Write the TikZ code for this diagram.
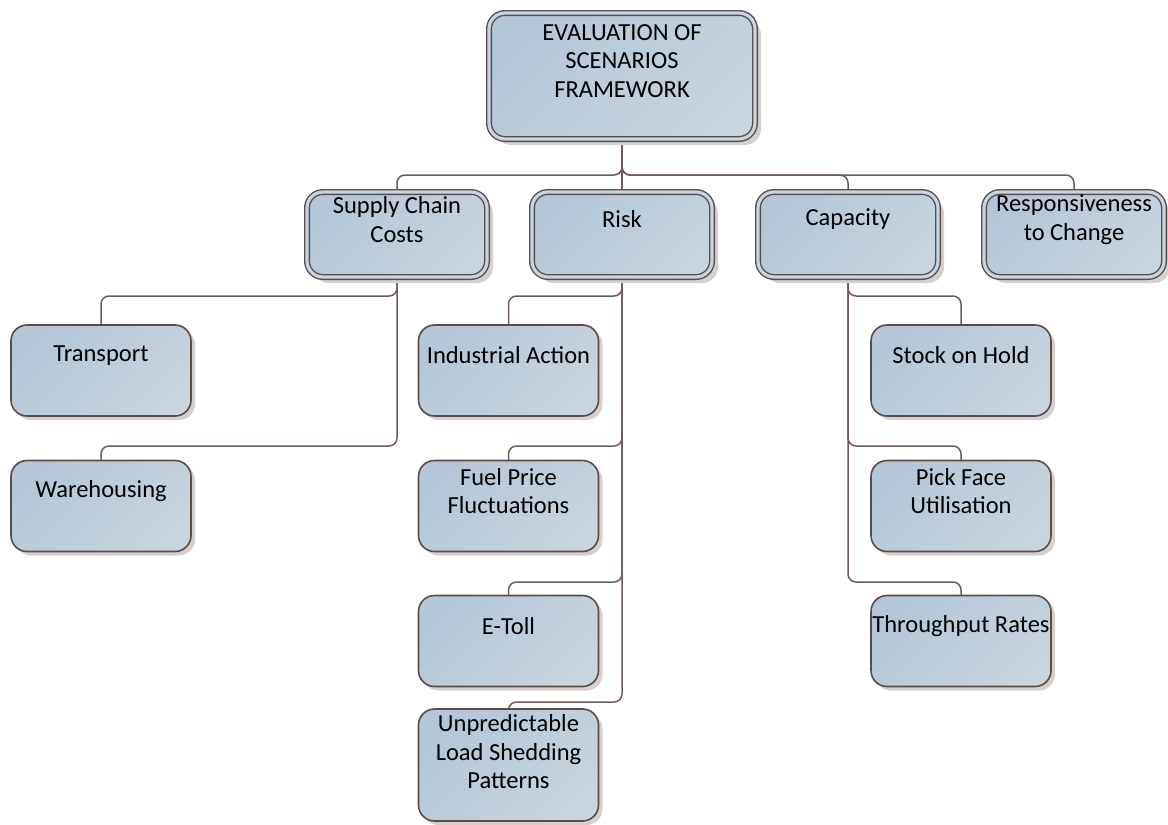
\documentclass[tikz,border=0pt]{standalone}
\usepackage{fontspec}
\setmainfont{Carlito}
\usetikzlibrary{shadows,backgrounds}
\definecolor{edge}{RGB}{92,76,72}
\definecolor{wire}{RGB}{110,92,88}
\definecolor{band}{RGB}{196,214,230}
\definecolor{fillA}{RGB}{180,199,216}
\definecolor{fillB}{RGB}{200,212,222}
\definecolor{shadowc}{RGB}{214,207,204}
\tikzset{
  x=1pt, y=1pt,
  basebox/.style={rounded corners=16pt, draw=edge, inner sep=0pt, outer sep=0pt,
    top color=fillA, bottom color=fillB, shading angle=45},
  dblbox/.style={basebox, line width=1.4pt, double=band, double distance=3.2pt,
    drop shadow={shadow xshift=6pt, shadow yshift=-6pt, fill=shadowc, opacity=1}},
  topbox/.style={dblbox, minimum width=266pt, minimum height=126pt},
  catbox/.style={dblbox, minimum width=180pt, minimum height=85pt},
  itembox/.style={basebox, line width=1.6pt, minimum width=180pt, minimum height=91pt,
    drop shadow={shadow xshift=4pt, shadow yshift=-4pt, fill=shadowc, opacity=1}},
  tallbox/.style={itembox, minimum height=112pt},
  lbl/.style={align=center, text=black, inner sep=0pt,
    font=\fontsize{24.5}{28.5}\selectfont},
  conn/.style={draw=wire, line width=1.5pt, rounded corners=8pt},
}
\begin{document}
\begin{tikzpicture}
\useasboundingbox (0,0) rectangle (1168,-825);

% levels of the connector tree
\coordinate (bus) at (0,-175);
\coordinate (r1) at (0,-296);
\coordinate (r2) at (0,-446);
\coordinate (r3) at (0,-582);
\coordinate (r4) at (0,-702);

% root
\node[topbox] (top) at (622,-76) {};
\node[lbl] (topt) at ([yshift=15pt]top.center) {EVALUATION OF\\SCENARIOS\\FRAMEWORK};

% categories
\node[catbox] (scc) at (397,-234.5) {};
\node[lbl] (scct) at ([yshift=15pt]scc.center) {Supply Chain\\Costs};
\node[catbox] (risk) at (622,-234.5) {};
\node[lbl] (riskt) at ([yshift=15pt]risk.center) {Risk};
\node[catbox] (cap) at (848,-234.5) {};
\node[lbl] (capt) at ([yshift=15pt]cap.center) {Capacity};
\node[catbox] (resp) at (1074,-234.5) {};
\node[lbl] (respt) at ([yshift=15pt]resp.center) {Responsiveness\\to Change};

% supply chain costs items
\node[itembox] (tr) at (101,-370.5) {};
\node[lbl] (trt) at ([yshift=15pt]tr.center) {Transport};
\node[itembox] (wh) at (101,-506) {};
\node[lbl] (wht) at ([yshift=15pt]wh.center) {Warehousing};

% risk items
\node[itembox] (ia) at (508.5,-370.5) {};
\node[lbl] (iat) at ([yshift=15pt]ia.center) {Industrial Action};
\node[itembox] (fp) at (508.5,-506) {};
\node[lbl] (fpt) at ([yshift=15pt]fp.center) {Fuel Price\\Fluctuations};
\node[itembox] (et) at (508.5,-641) {};
\node[lbl] (ett) at ([yshift=15pt]et.center) {E-Toll};
\node[tallbox] (ls) at (508.5,-765) {};
\node[lbl] (lst) at ([yshift=13pt]ls.center) {Unpredictable\\Load Shedding\\Patterns};

% capacity items
\node[itembox] (sh) at (961,-370.5) {};
\node[lbl] (sht) at ([yshift=15pt]sh.center) {Stock on Hold};
\node[itembox] (pf) at (961,-506) {};
\node[lbl] (pft) at ([yshift=15pt]pf.center) {Pick Face\\Utilisation};
\node[itembox] (tp) at (961,-641) {};
\node[lbl] (tpt) at ([yshift=15pt]tp.center) {Throughput Rates};

% connectors behind the boxes
\begin{scope}[on background layer]
  \foreach \c in {scc,risk,cap,resp}
    \draw[conn] (top.south) |- (\c.north |- bus) -- (\c.north);
  \draw[conn] (scc.south) |- (tr.north |- r1) -- (tr.north);
  \draw[conn] (scc.south) |- (wh.north |- r2) -- (wh.north);
  \draw[conn] (risk.south) |- (ia.north |- r1) -- (ia.north);
  \draw[conn] (risk.south) |- (fp.north |- r2) -- (fp.north);
  \draw[conn] (risk.south) |- (et.north |- r3) -- (et.north);
  \draw[conn] (risk.south) |- (ls.north |- r4) -- (ls.north);
  \draw[conn] (cap.south) |- (sh.north |- r1) -- (sh.north);
  \draw[conn] (cap.south) |- (pf.north |- r2) -- (pf.north);
  \draw[conn] (cap.south) |- (tp.north |- r3) -- (tp.north);
\end{scope}
\end{tikzpicture}
\end{document}
